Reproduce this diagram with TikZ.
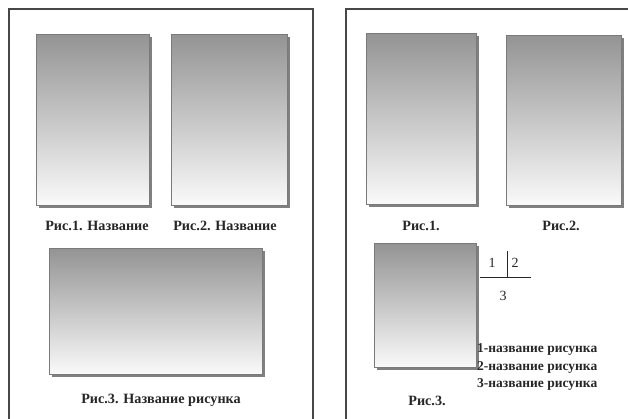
\documentclass[tikz,border=0pt]{standalone}
\usepackage{fontspec}
\setmainfont{Liberation Serif}
\usetikzlibrary{shadows}
\begin{document}
\begin{tikzpicture}[x=1pt,y=-1pt,
  frameline/.style={draw=black!72,line width=1.2pt},
  pic/.style={draw=black!52,line width=0.9pt,top color=black!42,bottom color=black!2,
    anchor=north west,inner sep=0pt,
    drop shadow={shadow xshift=2.2pt,shadow yshift=-2.2pt,opacity=1,fill=black!50}},
  captext/.style={font=\fontsize{14.2}{16}\selectfont\bfseries,inner sep=0pt,anchor=base,text=black!85},
  legtext/.style={font=\fontsize{13.5}{15}\selectfont\bfseries,inner sep=0pt,anchor=base west,text=black!85},
  numtext/.style={font=\fontsize{14}{16}\selectfont,inner sep=0pt,anchor=base,text=black!85},
  crossline/.style={draw=black!85,line width=1pt}]
\useasboundingbox (0,0) rectangle (628,419);
\fill[white] (0,0) rectangle (628,419);
% page frames
\draw[frameline] (9,425) -- (9,9) -- (313,9) -- (313,425);
\draw[frameline] (346,425) -- (346,9) -- (640,9);
% left page
\node[pic,minimum width=113pt,minimum height=171pt] (l1) at (36,34) {};
\node[pic,minimum width=116pt,minimum height=171pt] (l2) at (171,34) {};
\node[pic,minimum width=213pt,minimum height=126pt] (l3) at (49,248) {};
\node[captext] (cl1) at (97,231) {Рис.1. Название};
\node[captext] (cl2) at (225,231) {Рис.2. Название};
\node[captext] (cl3) at (161,403) {Рис.3. Название рисунка};
% right page
\node[pic,minimum width=110pt,minimum height=171pt] (r1) at (366,33) {};
\node[pic,minimum width=115pt,minimum height=170pt] (r2) at (506,35) {};
\node[pic,minimum width=102pt,minimum height=124pt] (r3) at (374,243) {};
\node[captext] (cr1) at (421,231) {Рис.1.};
\node[captext] (cr2) at (561,231) {Рис.2.};
\node[captext] (cr3) at (427,405) {Рис.3.};
% scheme
\coordinate (vt) at (507,251);
\coordinate (vb) at (507,278);
\coordinate (hl) at (480,277);
\coordinate (hr) at (531,277);
\draw[crossline] (vt) -- (vb);
\draw[crossline] (hl) -- (hr);
\node[numtext] (n1) at (492,267) {1};
\node[numtext] (n2) at (515,267) {2};
\node[numtext] (n3) at (503,300) {3};
\node[legtext] (g1) at (477,352.5) {1-название рисунка};
\node[legtext] (g2) at (477,370) {2-название рисунка};
\node[legtext] (g3) at (477,387.5) {3-название рисунка};
\end{tikzpicture}
\end{document}
